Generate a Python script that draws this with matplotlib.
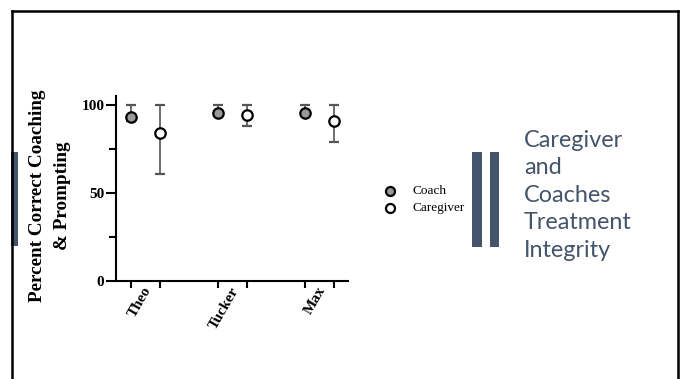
import matplotlib
matplotlib.use('Agg')
import matplotlib.pyplot as plt
from matplotlib.lines import Line2D
from matplotlib.patches import Rectangle

names = ['Theo', 'Tucker', 'Max']
coach_pos = [0, 3, 6]
care_pos = [1, 4, 7]
coach_mean = [93, 95.5, 95.5]
coach_low = [91, 94, 94]
coach_high = [100, 100, 100]
care_mean = [84, 94, 91]
care_low = [61, 88, 79]
care_high = [100, 100, 100]
legend_labels = ['Coach', 'Caregiver']
title_lines = ['Caregiver', 'and', 'Coaches', 'Treatment', 'Integrity']

W, H = 685, 379
fig = plt.figure(figsize=(W / 100, H / 100), dpi=100)
slate = '#44546A'

def fx(px):
    return px / W

def fy(py):
    return 1 - py / H

# slide border
for xs, ys in [([11.5, 677.5], [10.5, 10.5]), ([11.5, 11.5], [10.5, 379]), ([677.5, 677.5], [10.5, 379])]:
    fig.add_artist(Line2D([fx(x) for x in xs], [fy(y) for y in ys], color='black', lw=1.8))

# decorative bars
fig.add_artist(Rectangle((fx(11), fy(246)), fx(7), 94 / H, color=slate, lw=0))
fig.add_artist(Rectangle((fx(472), fy(247)), fx(10.5), 95 / H, color=slate, lw=0))
fig.add_artist(Rectangle((fx(489.5), fy(247)), fx(9.5), 95 / H, color=slate, lw=0))

ax = fig.add_axes([fx(115.5), fy(281), fx(348 - 115.5), (281 - 96) / H])

serif = 'Liberation Serif'
ax.errorbar(coach_pos, coach_mean,
            yerr=[[m - l for m, l in zip(coach_mean, coach_low)], [h - m for m, h in zip(coach_mean, coach_high)]],
            fmt='o', ms=7.5, mfc='#999999', mec='black', mew=1.6, ecolor='#555555', elinewidth=1.2,
            capsize=3.8, capthick=1.2, clip_on=False, zorder=3)
ax.errorbar(care_pos, care_mean,
            yerr=[[m - l for m, l in zip(care_mean, care_low)], [h - m for m, h in zip(care_mean, care_high)]],
            fmt='o', ms=7.5, mfc='white', mec='black', mew=1.6, ecolor='#555555', elinewidth=1.2,
            capsize=3.8, capthick=1.2, clip_on=False, zorder=3)

ax.set_xlim(-0.52, 7.5)
ax.set_ylim(0, 105)
ax.spines['top'].set_visible(False)
ax.spines['right'].set_visible(False)
for s in ['left', 'bottom']:
    ax.spines[s].set_linewidth(1.5)

ax.set_yticks([0, 50, 100])
ax.set_yticks([25, 75], minor=True)
ax.set_yticklabels(['0', '50', '100'], fontfamily=serif, fontweight='bold', fontsize=11)
ax.tick_params(axis='y', which='major', length=7, width=1.5, pad=1)
ax.tick_params(axis='y', which='minor', length=5, width=1.5)

ax.set_xticks([p + 0.62 for p in coach_pos])
ax.set_xticklabels(names, rotation=60, ha='right', va='center', rotation_mode='anchor',
                   fontfamily=serif, fontweight='bold', fontsize=11)
ax.set_xticks(coach_pos + care_pos, minor=True)
ax.tick_params(axis='x', which='major', length=0, pad=5)
ax.tick_params(axis='x', which='minor', length=5, width=1.5)

fig.text(fx(50), fy(196), 'Percent Correct Coaching\n& Prompting', rotation=90, ha='center', va='center',
         multialignment='center', fontfamily=serif, fontweight='bold', fontsize=13.8, linespacing=1.65)

# legend
lx, ly = 390, [190.5, 207.5]
fig.add_artist(Line2D([fx(lx)], [fy(ly[0])], marker='o', ms=6.5, mfc='#999999', mec='black', mew=1.6, ls=''))
fig.add_artist(Line2D([fx(lx)], [fy(ly[1])], marker='o', ms=6.5, mfc='white', mec='black', mew=1.6, ls=''))
for lab, y in zip(legend_labels, ly):
    fig.text(fx(413), fy(y), lab, ha='left', va='center', fontfamily=serif, fontsize=9.5)

fig.text(fx(524), fy(130), '\n'.join(title_lines), ha='left', va='top', color=slate,
         fontfamily='Lato', fontsize=16.8, linespacing=1.38)

fig.savefig('out.png', dpi=100)
